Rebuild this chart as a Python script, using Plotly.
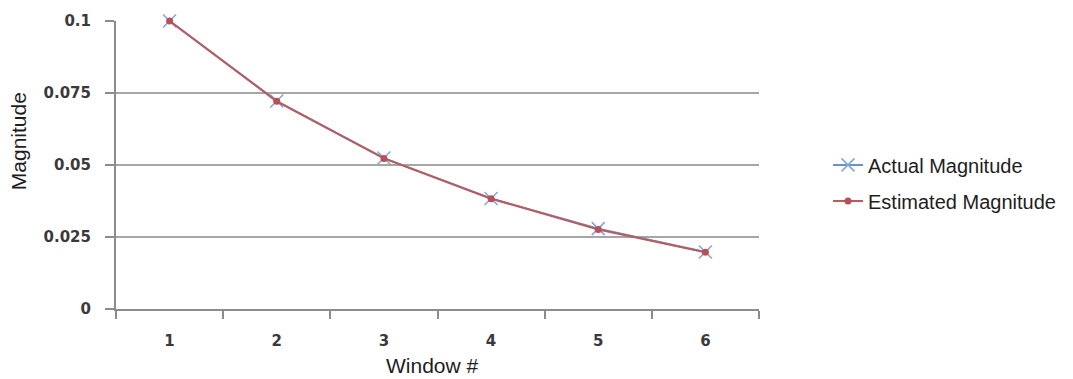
import plotly.graph_objects as go

windows = [1, 2, 3, 4, 5, 6]
actual = [0.1, 0.0722, 0.0524, 0.0384, 0.0279, 0.0198]
estimated = [0.1, 0.0721, 0.0523, 0.0383, 0.0276, 0.0197]
y_ticks = [0, 0.025, 0.05, 0.075, 0.1]
y_tick_text = ["0", "0.025", "0.05", "0.075", "0.1"]

fig = go.Figure()
fig.add_trace(go.Scatter(
    x=windows, y=actual, name="Actual Magnitude", mode="lines+markers",
    legendgroup="a", cliponaxis=False,
    line=dict(color="#6A92C8", width=2),
    marker=dict(symbol="x-thin", size=13, line=dict(color="#7FA6D8", width=1.5)),
))
fig.add_trace(go.Scatter(
    x=windows, y=estimated, name="Estimated Magnitude", mode="lines+markers",
    legendgroup="b", cliponaxis=False,
    line=dict(color="#B85C5E", width=2),
    marker=dict(symbol="circle", size=7, color="#B8505A"),
))

tickfont = dict(family="DejaVu Sans", size=15, color="#3A3A3A", weight="bold")
titlefont = dict(family="Liberation Sans", size=21, color="#1E1E1E")

PLOT_L, PLOT_R, PLOT_T, PLOT_B = 116, 759, 19, 309

def px_x(x):
    return (x - PLOT_L) / (PLOT_R - PLOT_L)

def px_y(y):
    return (PLOT_B - y) / (PLOT_B - PLOT_T)

fig.update_layout(
    width=1073, height=379,
    margin=dict(l=PLOT_L, r=1073 - PLOT_R, t=PLOT_T, b=379 - PLOT_B),
    paper_bgcolor="white", plot_bgcolor="white",
    showlegend=True,
    legend=dict(x=px_x(828), y=px_y(182), xanchor="left", yanchor="middle",
                font=dict(family="Liberation Sans", size=20, color="#1E1E1E"),
                bgcolor="rgba(0,0,0,0)", tracegroupgap=7),
    xaxis=dict(
        range=[0.5, 6.5], tickvals=windows, ticktext=[str(w) for w in windows],
        ticks="", showgrid=False, zeroline=False,
        showline=True, linecolor="#8C8C8C", linewidth=2,
        tickfont=tickfont, ticklabelstandoff=17,
        minor=dict(tickmode="array", tickvals=[0.5, 1.5, 2.5, 3.5, 4.5, 5.5, 6.5],
                   ticks="outside", ticklen=8, tickcolor="#8C8C8C", tickwidth=2, showgrid=False),
    ),
    yaxis=dict(
        range=[0, 0.1], tickvals=y_ticks, ticktext=y_tick_text,
        ticks="outside", ticklen=9, tickcolor="#8C8C8C", tickwidth=2,
        showgrid=True, gridcolor="#A6A6A6", gridwidth=2, zeroline=False,
        showline=True, linecolor="#8C8C8C", linewidth=2,
        tickfont=tickfont, ticklabelstandoff=11,
    ),
    annotations=[
        dict(text="Window #", x=px_x(432), y=px_y(366), xref="paper", yref="paper",
             xanchor="center", yanchor="middle", showarrow=False, font=titlefont),
        dict(text="Magnitude", x=px_x(18), y=px_y(140), xref="paper", yref="paper",
             xanchor="center", yanchor="middle", showarrow=False, font=titlefont,
             textangle=-90),
    ],
)

fig.write_html("out.html")
